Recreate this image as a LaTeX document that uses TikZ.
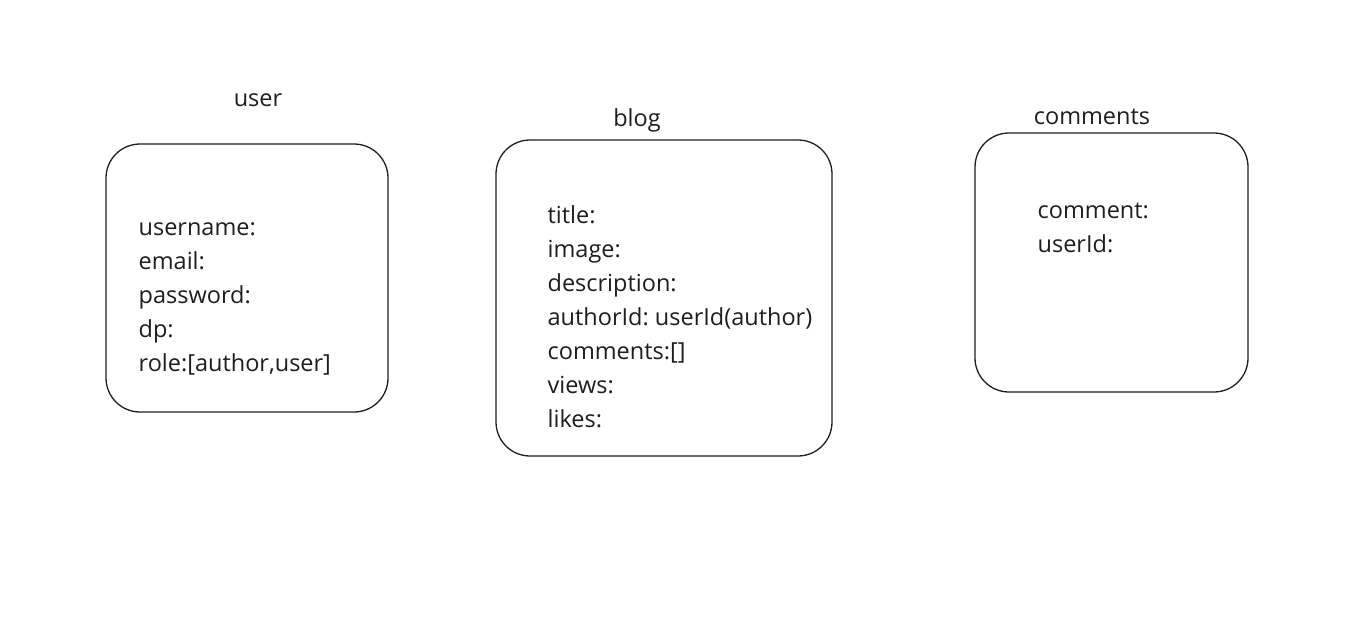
\documentclass[tikz,border=0pt]{standalone}
\usepackage{fontspec}
\setmainfont{Open Sans}
\usepackage{tikz}
\definecolor{ink}{HTML}{1E1E1E}
\frenchspacing

\begin{document}
\begin{tikzpicture}[x=1pt, y=-1pt, line width=1.3pt,
		box/.style={draw=ink, rounded corners=34pt, inner sep=0pt},
		title/.style={anchor=base, text=ink, font=\fontsize{23.5}{28}\selectfont},
		field/.style={anchor=base west, inner sep=0pt, text=ink, font=\fontsize{23.5}{28}\selectfont}]
		\useasboundingbox (0,0) rectangle (1354,616);

		% user
		\node[title] (usertitle) at (258,106) {user};
		\node[box, minimum width=282pt, minimum height=268pt] (user) at (247,278) {};
		\node[field] (username) at (138,235) {username:};
		\node[field] (email) at (138,269) {email:};
		\node[field] (password) at (138,303) {password:};
		\node[field] (dp) at (138,337) {dp:};
		\node[field] (role) at (138,371) {role:[author,user]};

		% blog
		\node[title] (blogtitle) at (637,126) {blog};
		\node[box, minimum width=336pt, minimum height=316pt] (blog) at (664,298) {};
		\node[field] (title) at (547,223) {title:};
		\node[field] (image) at (547,257) {image:};
		\node[field] (description) at (547,291) {description:};
		\node[field] (authorid) at (547,325) {authorId: userId(author)};
		\node[field] (blogcomments) at (547,359) {comments:[]};
		\node[field] (views) at (547,393) {views:};
		\node[field] (likes) at (547,427) {likes:};

		% comments
		\node[title] (commentstitle) at (1092,124) {comments};
		\node[box, minimum width=273pt, minimum height=259pt] (comments) at (1111.5,262.5) {};
		\node[field] (comment) at (1037,218) {comment:};
		\node[field] (userid) at (1037,252) {userId:};
	\end{tikzpicture}
\end{document}
